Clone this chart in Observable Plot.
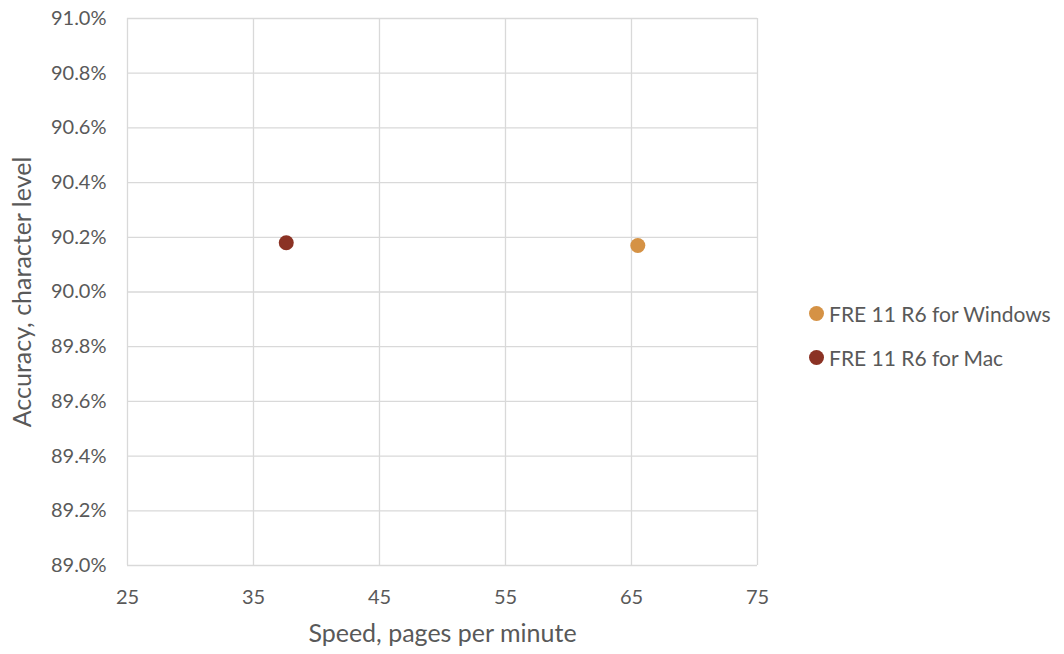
<!DOCTYPE html>
<html>
<head>
<meta charset="utf-8">
<script src="https://cdn.jsdelivr.net/npm/d3@7"></script>
<script src="https://cdn.jsdelivr.net/npm/@observablehq/plot@0.6"></script>
<style>
  html, body { margin: 0; padding: 0; background: #fff; }
  #wrap { position: relative; width: 1064px; height: 654px; font-family: Lato, "Open Sans", sans-serif; }
  #legend { position: absolute; left: 809px; top: 291px; font-size: 21px; color: #595959; }
  .item { display: flex; align-items: center; height: 44px; line-height: 1; }
  .sw { width: 15px; height: 15px; border-radius: 50%; margin-right: 5px; display: inline-block; }
</style>
</head>
<body>
<div id="wrap"></div>
<script>
const series = ["FRE 11 R6 for Windows", "FRE 11 R6 for Mac"];
const speed = [65.5, 37.6];
const accuracy = [90.17, 90.18];
const colors = ["#D59245", "#8B3224"];
const xTicks = [25, 35, 45, 55, 65, 75];
const yTicks = [89.0, 89.2, 89.4, 89.6, 89.8, 90.0, 90.2, 90.4, 90.6, 90.8, 91.0];

const data = series.map((s, i) => ({series: s, speed: speed[i], accuracy: accuracy[i]}));
const fmt = d => d.toFixed(1) + "%";

const chart = Plot.plot({
  width: 800,
  height: 654,
  marginLeft: 127,
  marginRight: 43,
  marginTop: 18,
  marginBottom: 89,
  style: {fontFamily: "Lato, 'Open Sans', sans-serif", fontSize: "20px", color: "#595959", background: "#fff", overflow: "visible"},
  x: {domain: [25, 75], label: null},
  y: {domain: [89, 91], label: null},
  color: {domain: series, range: colors},
  marks: [
    Plot.gridX(xTicks, {stroke: "#D9D9D9", strokeOpacity: 1, strokeWidth: 1.3}),
    Plot.gridY(yTicks, {stroke: "#D9D9D9", strokeOpacity: 1, strokeWidth: 1.3}),
    Plot.axisX(xTicks, {tickSize: 0, tickPadding: 24, fontSize: 20, fill: "#595959", label: null}),
    Plot.axisY(yTicks, {tickSize: 0, tickPadding: 21, fontSize: 20, fill: "#595959", label: null, tickFormat: fmt}),
    Plot.text(["Speed, pages per minute"], {frameAnchor: "bottom", dy: 76, fontSize: 25, fill: "#595959"}),
    Plot.text(["Accuracy, character level"], {frameAnchor: "left", textAnchor: "middle", dx: -105, rotate: -90, fontSize: 25, fill: "#595959"}),
    Plot.dot(data, {x: "speed", y: "accuracy", fill: "series", r: 7.5})
  ]
});
document.getElementById("wrap").appendChild(chart);

const legend = document.createElement("div");
legend.id = "legend";
series.forEach((s, i) => {
  const it = document.createElement("div");
  it.className = "item";
  const sw = document.createElement("span");
  sw.className = "sw";
  sw.style.background = colors[i];
  it.appendChild(sw);
  it.appendChild(document.createTextNode(s));
  legend.appendChild(it);
});
document.getElementById("wrap").appendChild(legend);
</script>
</body>
</html>
